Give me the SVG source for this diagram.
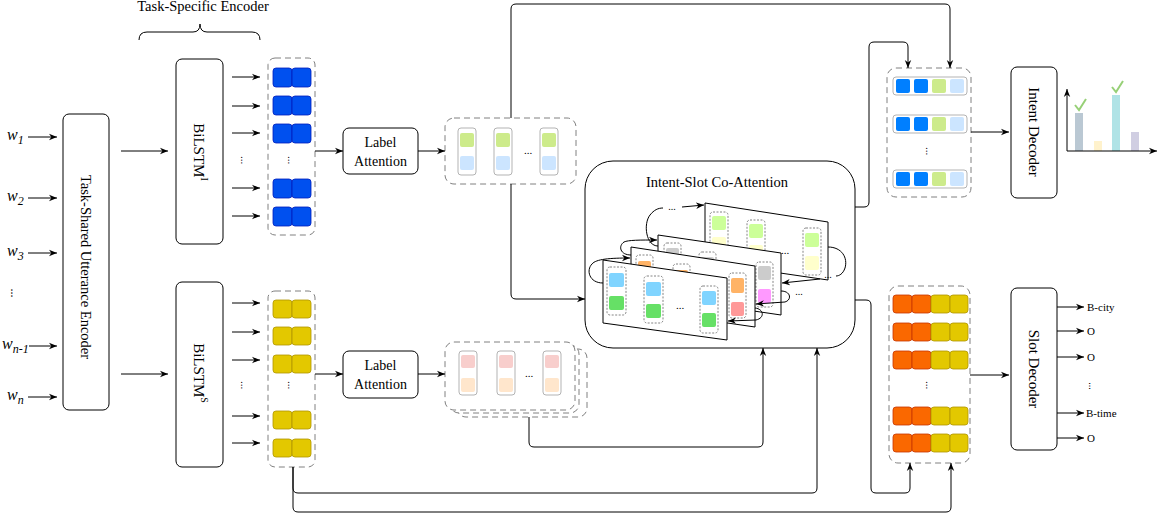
<svg xmlns="http://www.w3.org/2000/svg" width="1164" height="517" viewBox="0 0 1164 517">
<defs>
<style>
.t{font-family:"Liberation Serif",serif;fill:#000}
.box{fill:#fff;stroke:#000;stroke-width:1}
.conn{fill:none;stroke:#000;stroke-width:1}
.dash{fill:#fff;stroke:#808080;stroke-width:1;stroke-dasharray:6 4}
.card{fill:#fff;stroke:#B3B3B3;stroke-width:1}
.dot{fill:#fff;stroke:#666;stroke-width:0.8;stroke-dasharray:2 1.5}
.plane{fill:#fff;stroke:#000;stroke-width:1}
.bl{fill:#0050EF;stroke:#001DBC;stroke-width:0.8}
.ye{fill:#E3C800;stroke:#B09500;stroke-width:0.8}
.or{fill:#FA6800;stroke:#C73500;stroke-width:0.8}
</style>
<marker id="ah" viewBox="0 0 10 10" refX="10" refY="5" markerWidth="8" markerHeight="8" orient="auto" markerUnits="userSpaceOnUse"><path d="M0,1 L10,5 L0,9 L3,5 Z" fill="#000"/></marker>
</defs>
<rect width="1164" height="517" fill="#fff"/>

<g id="inputs">
<text class="t" x="7" y="140" font-size="16" font-style="italic">w<tspan font-size="12" dy="4">1</tspan></text>
<text class="t" x="7" y="201" font-size="16" font-style="italic">w<tspan font-size="12" dy="4">2</tspan></text>
<text class="t" x="7" y="256" font-size="16" font-style="italic">w<tspan font-size="12" dy="4">3</tspan></text>
<text class="t" x="15" y="293" font-size="12" text-anchor="middle" dominant-baseline="central" transform="rotate(90 15 293)">...</text>
<text class="t" x="2" y="349" font-size="16" font-style="italic">w<tspan font-size="12" dy="4">n-1</tspan></text>
<text class="t" x="7" y="400" font-size="16" font-style="italic">w<tspan font-size="12" dy="4">n</tspan></text>
</g>

<g id="encoder">
<rect class="box" x="63" y="114" width="46" height="296" rx="6"/>
<text class="t" x="86" y="267" font-size="14.5" text-anchor="middle" dominant-baseline="central" transform="rotate(90 86 267)">Task-Shared Utterance Encoder</text>
</g>

<g id="task-specific-label">
<text class="t" x="203" y="11" font-size="14.5" text-anchor="middle">Task-Specific Encoder</text>
<path class="conn" d="M139,40 Q139,32 147,32 L193,32 Q200,32 200,24 Q200,32 207,32 L252,32 Q260,32 260,40"/>
</g>

<g id="bilstm-i">
<rect class="box" x="176" y="59" width="47" height="185" rx="6"/>
<text class="t" x="199" y="152" font-size="15" text-anchor="middle" dominant-baseline="central" transform="rotate(90 199 152)">BiLSTM<tspan font-size="10" dy="-6">I</tspan></text>
</g>
<g id="bilstm-s">
<rect class="box" x="176" y="282" width="47" height="185" rx="6"/>
<text class="t" x="199" y="373" font-size="15" text-anchor="middle" dominant-baseline="central" transform="rotate(90 199 373)">BiLSTM<tspan font-size="10" dy="-6">S</tspan></text>
</g>

<g id="hidden-i">
<rect class="dash" x="268" y="58" width="47" height="177" rx="7"/>
<rect class="bl" x="273" y="68" width="19" height="19" rx="3"/><rect class="bl" x="292" y="68" width="19" height="19" rx="3"/>
<rect class="bl" x="273" y="96" width="19" height="19" rx="3"/><rect class="bl" x="292" y="96" width="19" height="19" rx="3"/>
<rect class="bl" x="273" y="124" width="19" height="19" rx="3"/><rect class="bl" x="292" y="124" width="19" height="19" rx="3"/>
<rect class="bl" x="273" y="179" width="19" height="19" rx="3"/><rect class="bl" x="292" y="179" width="19" height="19" rx="3"/>
<rect class="bl" x="273" y="207" width="19" height="19" rx="3"/><rect class="bl" x="292" y="207" width="19" height="19" rx="3"/>
<text class="t" x="292" y="160" font-size="11" text-anchor="middle" dominant-baseline="central" transform="rotate(90 292 160)">...</text>
</g>
<g id="hidden-s">
<rect class="dash" x="268" y="291" width="47" height="176" rx="7"/>
<rect class="ye" x="273" y="300" width="19" height="18" rx="3"/><rect class="ye" x="292" y="300" width="19" height="18" rx="3"/>
<rect class="ye" x="273" y="327" width="19" height="18" rx="3"/><rect class="ye" x="292" y="327" width="19" height="18" rx="3"/>
<rect class="ye" x="273" y="355" width="19" height="18" rx="3"/><rect class="ye" x="292" y="355" width="19" height="18" rx="3"/>
<rect class="ye" x="273" y="411" width="19" height="18" rx="3"/><rect class="ye" x="292" y="411" width="19" height="18" rx="3"/>
<rect class="ye" x="273" y="439" width="19" height="18" rx="3"/><rect class="ye" x="292" y="439" width="19" height="18" rx="3"/>
<text class="t" x="292" y="385" font-size="11" text-anchor="middle" dominant-baseline="central" transform="rotate(90 292 385)">...</text>
</g>

<g id="label-attn-i">
<rect class="box" x="343" y="128" width="75" height="46" rx="6"/>
<text class="t" x="380.5" y="147" font-size="14" text-anchor="middle">Label</text>
<text class="t" x="380.5" y="166" font-size="14" text-anchor="middle">Attention</text>
</g>
<g id="label-attn-s">
<rect class="box" x="343" y="351" width="75" height="47" rx="6"/>
<text class="t" x="380.5" y="370" font-size="14" text-anchor="middle">Label</text>
<text class="t" x="380.5" y="389" font-size="14" text-anchor="middle">Attention</text>
</g>

<g id="label-repr-i">
<rect class="dash" x="445" y="118" width="131" height="66" rx="9"/>
<rect class="card" x="458" y="128" width="18" height="47" rx="3"/>
<rect x="460" y="133" width="14" height="14" rx="2" fill="#CDEB8B"/><rect x="460" y="156" width="14" height="14" rx="2" fill="#CCE5FF"/>
<rect class="card" x="494" y="128" width="18" height="47" rx="3"/>
<rect x="496" y="133" width="14" height="14" rx="2" fill="#CDEB8B"/><rect x="496" y="156" width="14" height="14" rx="2" fill="#CCE5FF"/>
<rect class="card" x="540" y="128" width="18" height="47" rx="3"/>
<rect x="542" y="133" width="14" height="14" rx="2" fill="#CDEB8B"/><rect x="542" y="156" width="14" height="14" rx="2" fill="#CCE5FF"/>
<text class="t" x="528" y="154" font-size="11" text-anchor="middle">...</text>
</g>

<g id="label-repr-s">
<rect class="dash" x="457" y="349" width="130" height="68" rx="9"/>
<rect class="dash" x="450" y="345" width="129" height="68" rx="9"/>
<rect class="dash" x="445" y="342" width="130" height="68" rx="9"/>
<rect class="card" x="459" y="351" width="18" height="44" rx="3"/>
<rect x="461" y="355" width="14" height="13" rx="2" fill="#F8CECC"/><rect x="461" y="378" width="14" height="14" rx="2" fill="#FFE6CC"/>
<rect class="card" x="497" y="351" width="18" height="44" rx="3"/>
<rect x="499" y="355" width="14" height="13" rx="2" fill="#F8CECC"/><rect x="499" y="378" width="14" height="14" rx="2" fill="#FFE6CC"/>
<rect class="card" x="543" y="351" width="18" height="44" rx="3"/>
<rect x="545" y="355" width="14" height="13" rx="2" fill="#F8CECC"/><rect x="545" y="378" width="14" height="14" rx="2" fill="#FFE6CC"/>
<text class="t" x="529" y="377" font-size="11" text-anchor="middle">...</text>
</g>

<g id="co-attention">
<rect class="box" x="585" y="161" width="270" height="187" rx="28"/>
<text class="t" x="717" y="187" font-size="14.5" text-anchor="middle">Intent-Slot Co-Attention</text>
<polygon class="plane" points="705,203 828,222 828,280 705,262"/>
<rect class="dot" x="710" y="212" width="18" height="46" rx="3"/>
<rect x="712" y="216" width="14" height="14" rx="2" fill="#CCFF99"/><rect x="712" y="237" width="14" height="14" rx="2" fill="#FFFFCC"/>
<rect class="dot" x="747" y="220" width="18" height="46" rx="3"/>
<rect x="749" y="224" width="14" height="14" rx="2" fill="#CCFF99"/><rect x="749" y="245" width="14" height="14" rx="2" fill="#FFFFCC"/>
<rect class="dot" x="803" y="228" width="18" height="47" rx="3"/>
<rect x="805" y="233" width="14" height="14" rx="2" fill="#CCFF99"/><rect x="805" y="256" width="14" height="14" rx="2" fill="#FFFFCC"/>
<text class="t" x="785" y="254" font-size="11" text-anchor="middle">...</text>

<polygon class="plane" points="658,235 781,253 781,315 658,297"/>
<rect class="dot" x="664" y="243" width="17" height="46" rx="3"/>
<rect x="666" y="248" width="13" height="14" rx="2" fill="#CCCCCC"/><rect x="666" y="272" width="13" height="14" rx="2" fill="#FF99FF"/>
<rect class="dot" x="699" y="252" width="17" height="46" rx="3"/>
<rect x="701" y="257" width="13" height="14" rx="2" fill="#CCCCCC"/><rect x="701" y="281" width="13" height="14" rx="2" fill="#FF99FF"/>
<rect class="dot" x="756" y="262" width="17" height="45" rx="3"/>
<rect x="758" y="266" width="13" height="14" rx="2" fill="#CCCCCC"/><rect x="758" y="289" width="13" height="14" rx="2" fill="#FF99FF"/>

<polygon class="plane" points="631,247 755,266 755,327 631,309"/>
<rect class="dot" x="636" y="255" width="17" height="47" rx="3"/>
<rect x="638" y="261" width="13" height="14" rx="2" fill="#FFB366"/><rect x="638" y="284" width="13" height="14" rx="2" fill="#FF9999"/>
<rect class="dot" x="673" y="264" width="17" height="47" rx="3"/>
<rect x="675" y="270" width="13" height="14" rx="2" fill="#FFB366"/><rect x="675" y="293" width="13" height="14" rx="2" fill="#FF9999"/>
<rect class="dot" x="729" y="273" width="17" height="45" rx="3"/>
<rect x="731" y="278" width="13" height="15" rx="2" fill="#FFB366"/><rect x="731" y="302" width="13" height="14" rx="2" fill="#FF9999"/>

<polygon class="plane" points="603,260 727,278 727,340 603,323"/>
<rect class="dot" x="607" y="267" width="19" height="48" rx="3"/>
<rect x="609" y="273" width="15" height="14" rx="2" fill="#80D4FF"/><rect x="609" y="296" width="15" height="14" rx="2" fill="#66E066"/>
<rect class="dot" x="644" y="276" width="19" height="47" rx="3"/>
<rect x="646" y="282" width="15" height="14" rx="2" fill="#80D4FF"/><rect x="646" y="304" width="15" height="14" rx="2" fill="#66E066"/>
<rect class="dot" x="700" y="286" width="18" height="47" rx="3"/>
<rect x="702" y="291" width="14" height="14" rx="2" fill="#80D4FF"/><rect x="702" y="313" width="14" height="14" rx="2" fill="#66E066"/>
<text class="t" x="680" y="309" font-size="11" text-anchor="middle">...</text>

<path class="conn" d="M603,283 C589,283 586,270 592,264 C596,259 610,258 630,258" marker-end="url(#ah)"/>
<path class="conn" d="M631,255 C620,255 618,246 624,242 C628,240 640,240 657,240" marker-end="url(#ah)"/>
<path class="conn" d="M658,246 C646,246 643,224 650,215 C654,210 658,208 663,208"/>
<text class="t" x="672" y="210" font-size="10" text-anchor="middle">...</text>
<path class="conn" d="M682,207 L704,205" marker-end="url(#ah)"/>
<path class="conn" d="M828,247 C842,247 848,258 845,268 C843,274 839,276 836,276"/>
<text class="t" x="828" y="278" font-size="10" text-anchor="middle">...</text>
<path class="conn" d="M820,279 L782,283" marker-end="url(#ah)"/>
<path class="conn" d="M781,291 C791,291 792,300 785,302 L756,304" marker-end="url(#ah)"/>
<text class="t" x="799" y="295" font-size="10" text-anchor="middle">...</text>
<path class="conn" d="M755,308 C764,309 765,318 756,320 L728,321" marker-end="url(#ah)"/>
</g>

<g id="intent-repr">
<rect class="dash" x="887" y="68" width="84" height="129" rx="9"/>
<rect class="card" x="893" y="77" width="74" height="18" rx="3"/>
<rect x="896" y="79" width="14" height="14" rx="2" fill="#007FFF"/><rect x="914" y="79" width="14" height="14" rx="2" fill="#007FFF"/><rect x="932" y="79" width="14" height="14" rx="2" fill="#CDEB8B"/><rect x="950" y="79" width="14" height="14" rx="2" fill="#CCE5FF"/>
<rect class="card" x="893" y="115" width="74" height="18" rx="3"/>
<rect x="896" y="117" width="14" height="14" rx="2" fill="#007FFF"/><rect x="914" y="117" width="14" height="14" rx="2" fill="#007FFF"/><rect x="932" y="117" width="14" height="14" rx="2" fill="#CDEB8B"/><rect x="950" y="117" width="14" height="14" rx="2" fill="#CCE5FF"/>
<rect class="card" x="893" y="170" width="74" height="18" rx="3"/>
<rect x="896" y="172" width="14" height="14" rx="2" fill="#007FFF"/><rect x="914" y="172" width="14" height="14" rx="2" fill="#007FFF"/><rect x="932" y="172" width="14" height="14" rx="2" fill="#CDEB8B"/><rect x="950" y="172" width="14" height="14" rx="2" fill="#CCE5FF"/>
<text class="t" x="930" y="151" font-size="11" text-anchor="middle" dominant-baseline="central" transform="rotate(90 930 151)">...</text>
</g>

<g id="slot-repr">
<rect class="dash" x="889" y="286" width="81" height="177" rx="9"/>
<rect class="or" x="893" y="295" width="19" height="18" rx="3"/><rect class="or" x="912" y="295" width="19" height="18" rx="3"/><rect class="ye" x="931" y="295" width="19" height="18" rx="3"/><rect class="ye" x="950" y="295" width="18" height="18" rx="3"/>
<rect class="or" x="893" y="323" width="19" height="18" rx="3"/><rect class="or" x="912" y="323" width="19" height="18" rx="3"/><rect class="ye" x="931" y="323" width="19" height="18" rx="3"/><rect class="ye" x="950" y="323" width="18" height="18" rx="3"/>
<rect class="or" x="893" y="351" width="19" height="18" rx="3"/><rect class="or" x="912" y="351" width="19" height="18" rx="3"/><rect class="ye" x="931" y="351" width="19" height="18" rx="3"/><rect class="ye" x="950" y="351" width="18" height="18" rx="3"/>
<rect class="or" x="893" y="407" width="19" height="18" rx="3"/><rect class="or" x="912" y="407" width="19" height="18" rx="3"/><rect class="ye" x="931" y="407" width="19" height="18" rx="3"/><rect class="ye" x="950" y="407" width="18" height="18" rx="3"/>
<rect class="or" x="893" y="434" width="19" height="18" rx="3"/><rect class="or" x="912" y="434" width="19" height="18" rx="3"/><rect class="ye" x="931" y="434" width="19" height="18" rx="3"/><rect class="ye" x="950" y="434" width="18" height="18" rx="3"/>
<text class="t" x="930" y="385" font-size="11" text-anchor="middle" dominant-baseline="central" transform="rotate(90 930 385)">...</text>
</g>

<g id="intent-decoder">
<rect class="box" x="1011" y="67" width="46" height="131" rx="6"/>
<text class="t" x="1034" y="132" font-size="15" text-anchor="middle" dominant-baseline="central" transform="rotate(90 1034 132)">Intent Decoder</text>
</g>
<g id="slot-decoder">
<rect class="box" x="1011" y="288" width="46" height="162" rx="6"/>
<text class="t" x="1034" y="369" font-size="15" text-anchor="middle" dominant-baseline="central" transform="rotate(90 1034 369)">Slot Decoder</text>
</g>

<g id="intent-chart">
<rect x="1075" y="113" width="8" height="38" fill="#BAC8D3"/>
<rect x="1094" y="141" width="8" height="10" fill="#FFF2CC"/>
<rect x="1112" y="95" width="8" height="56" fill="#B0E3E6"/>
<rect x="1131" y="132" width="8" height="19" fill="#D0CEE2"/>
<path class="conn" d="M1067,151 L1067,89" marker-end="url(#ah)"/>
<path class="conn" d="M1067,151 L1157,151" marker-end="url(#ah)"/>
<path d="M1075,105 L1079,110 L1086,99" fill="none" stroke="#97D077" stroke-width="2"/>
<path d="M1112,87 L1116,92 L1123,81" fill="none" stroke="#97D077" stroke-width="2"/>
</g>

<g id="slot-outputs">
<text class="t" x="1087" y="311" font-size="11">B-city</text>
<text class="t" x="1087" y="335" font-size="11">O</text>
<text class="t" x="1087" y="361" font-size="11">O</text>
<text class="t" x="1092" y="386" font-size="10" text-anchor="middle" dominant-baseline="central" transform="rotate(90 1092 386)">...</text>
<text class="t" x="1086" y="417" font-size="11">B-time</text>
<text class="t" x="1087" y="442" font-size="11">O</text>
</g>

<g id="connectors">
<path class="conn" d="M28,137 L57,137" marker-end="url(#ah)"/>
<path class="conn" d="M28,198 L57,198" marker-end="url(#ah)"/>
<path class="conn" d="M28,253 L57,253" marker-end="url(#ah)"/>
<path class="conn" d="M29,346 L57,346" marker-end="url(#ah)"/>
<path class="conn" d="M28,397 L57,397" marker-end="url(#ah)"/>
<path class="conn" d="M121,151 L168,151" marker-end="url(#ah)"/>
<path class="conn" d="M121,374 L168,374" marker-end="url(#ah)"/>
<path class="conn" d="M232,77 L260,77" marker-end="url(#ah)"/>
<path class="conn" d="M232,106 L260,106" marker-end="url(#ah)"/>
<path class="conn" d="M232,133 L260,133" marker-end="url(#ah)"/>
<path class="conn" d="M232,188 L260,188" marker-end="url(#ah)"/>
<path class="conn" d="M232,216 L260,216" marker-end="url(#ah)"/>
<text class="t" x="245" y="160" font-size="11" text-anchor="middle" dominant-baseline="central" transform="rotate(90 245 160)">...</text>
<path class="conn" d="M232,303 L260,303" marker-end="url(#ah)"/>
<path class="conn" d="M232,332 L260,332" marker-end="url(#ah)"/>
<path class="conn" d="M232,360 L260,360" marker-end="url(#ah)"/>
<path class="conn" d="M232,416 L260,416" marker-end="url(#ah)"/>
<path class="conn" d="M232,443 L260,443" marker-end="url(#ah)"/>
<text class="t" x="245" y="385" font-size="11" text-anchor="middle" dominant-baseline="central" transform="rotate(90 245 385)">...</text>
<path class="conn" d="M315,151 L343,151" marker-end="url(#ah)"/>
<path class="conn" d="M418,151 L445,151" marker-end="url(#ah)"/>
<path class="conn" d="M315,374 L343,374" marker-end="url(#ah)"/>
<path class="conn" d="M418,374 L445,374" marker-end="url(#ah)"/>
<path class="conn" d="M511,118 L511,9 Q511,4 516,4 L945,4 Q950,4 950,9 L950,68" marker-end="url(#ah)"/>
<path class="conn" d="M511,184 L511,294 Q511,299 516,299 L585,299" marker-end="url(#ah)"/>
<path class="conn" d="M855,207 L864,207 Q869,207 869,202 L869,47 Q869,42 874,42 L903,42 Q908,42 908,47 L908,68" marker-end="url(#ah)"/>
<path class="conn" d="M855,300 L866,300 Q871,300 871,305 L871,488 Q871,493 876,493 L905,493 Q910,493 910,488 L910,463" marker-end="url(#ah)"/>
<path class="conn" d="M529,417 L529,442 Q529,447 534,447 L758,447 Q763,447 763,442 L763,348" marker-end="url(#ah)"/>
<path class="conn" d="M293,467 L293,488 Q293,493 298,493 L812,493 Q817,493 817,488 L817,348" marker-end="url(#ah)"/>
<path class="conn" d="M293,467 L293,507 Q293,512 298,512 L946,512 Q951,512 951,507 L951,463" marker-end="url(#ah)"/>
<path class="conn" d="M971,132 L1009,132" marker-end="url(#ah)"/>
<path class="conn" d="M970,375 L1009,375" marker-end="url(#ah)"/>
<path class="conn" d="M1057,307 L1084,307" marker-end="url(#ah)"/>
<path class="conn" d="M1057,331 L1084,331" marker-end="url(#ah)"/>
<path class="conn" d="M1057,357 L1084,357" marker-end="url(#ah)"/>
<path class="conn" d="M1057,413 L1084,413" marker-end="url(#ah)"/>
<path class="conn" d="M1057,438 L1084,438" marker-end="url(#ah)"/>
</g>
</svg>
